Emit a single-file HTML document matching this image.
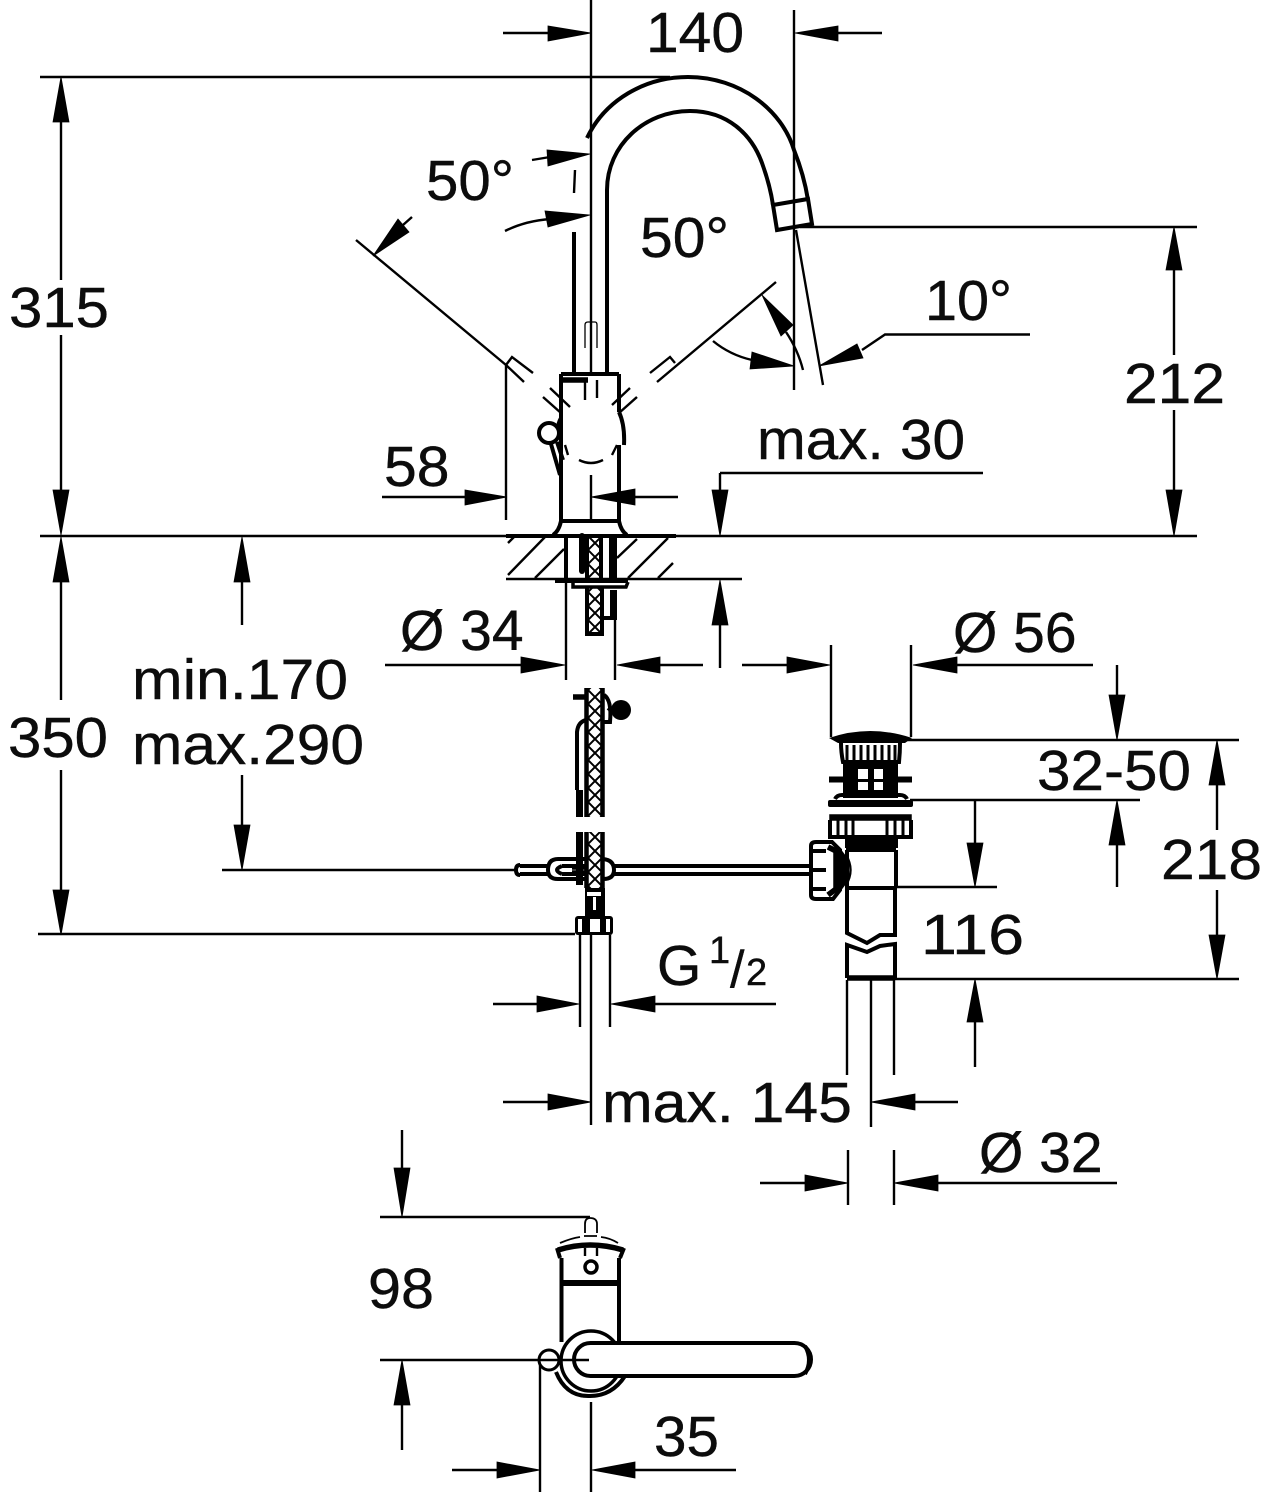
<!DOCTYPE html>
<html><head><meta charset="utf-8"><style>
html,body{margin:0;padding:0;background:#fff}
svg{display:block}
text{font-family:"Liberation Sans",sans-serif;font-size:57px;fill:#0c0c0c;stroke:#0c0c0c;stroke-width:.4}
.t{stroke:#000;stroke-width:2.4;fill:none}
.m{stroke:#000;stroke-width:4;fill:none}
.b{stroke:#000;stroke-width:5.5;fill:none}
.a{fill:#000;stroke:#000;stroke-width:.8}
</style></head><body>
<svg width="1268" height="1500" viewBox="0 0 1268 1500" xmlns="http://www.w3.org/2000/svg">
<defs><pattern id="x" width="14" height="14" patternUnits="userSpaceOnUse" x="588" y="536"><path d="M0 0L14 14M14 0L0 14" stroke="#000" stroke-width="2"/></pattern></defs>
<rect width="1268" height="1500" fill="#fff"/>

<!-- thin dimension lines -->
<path class="t" d="M40 77H670M591 0V375M794 10V390M503 33H550M838 33H882
M61 120V280M61 335V492M61 580V700M61 770V892M38 934H575
M40 536H1197M242 580V625M242 775V826M222 870H515
M800 227H1197M1174 270V355M1174 410V492M720 473H983M720 473V492M720 625V668M506 579H742
M382 497H465M506 365V520M635 497H678M591 475V521
M385 665H522M566 583V680M615 618V680M660 665H703M742 665H787M831 645V737M911 645V737M957 665H1093
M905 740H1239M910 800H1140M1117 665V696M1117 845V887M1217 785V830M1217 890V935M895 979H1239
M975 800V844M895 887H997M975 1022V1067
M580 935V1027M610 935V1027M591 935V1125M493 1004H538M655 1004H776
M503 1102H548M915 1102H958M871 980V1127M847 980V1075M894 980V1075M848 1150V1205M894 1150V1205
M760 1183H806M938 1183H1117
M402 1130V1170M380 1217H590M380 1360H545M402 1405V1450
M452 1470H498M540 1360V1492M591 1402V1492M635 1470H736"/>
<!-- arrowheads -->
<path class="a" d="M591 33L548 26V41Z M795 33L838 26V41Z
M61 77L53 122H69Z M61 535L53 490H69Z M61 537L53 582H69Z M61 935L53 890H69Z
M242 537L234 582H250Z M242 870L234 825H250Z
M1174 227L1166 270H1182Z M1174 536L1166 490H1182Z M720 536L712 490H728Z M720 580L712 625H728Z
M507 497L465 490V505Z M591 497L635 489V505Z
M565 665L521 657V673Z M617 665L660 657V673Z M830 665L787 657V673Z M913 665L957 657V673Z
M1117 740L1109 695H1125Z M1117 800L1109 845H1125Z M1217 740L1209 785H1225Z M1217 979L1209 935H1225Z
M975 887L967 843H983Z M975 979L967 1022H983Z
M579 1004L537 996V1012Z M611 1004L655 996V1012Z
M591 1102L548 1094V1110Z M871 1102L915 1094V1110Z
M848 1183L805 1175V1191Z M894 1183L938 1175V1191Z
M402 1217L394 1168H410Z M402 1360L394 1405H410Z
M540 1470L497 1462V1478Z M592 1470L635 1462V1478Z
M373 256L398 219L409 232Z M590 154L547 150L548 166Z M590 215L545 211L548 227Z
M762 295L793 325L781 336Z M794 366L752 352L750 369Z M819 366L857 344L863 358Z"/>
<!-- angle lines -->
<path class="t" d="M356 240L506 365L524 382M506 365L512 357L533 373M403 225L412 217
M532 160L550 157M505 231Q525 221 550 219M575 170L574 193
M776 282L657 382M650 373L670 357L675 363M786 332Q798 350 803 370M713 341Q730 355 752 360
M796 230L823 385M862 350L885 334.5H1030"/>
<!-- spout -->
<path class="m" d="M587 138C605 100 645 77 688 77C740 77 782 110 794 150Q804 175 808 200"/>
<path class="m" d="M607 373V190C607 145 645 111 690 111C728 111 752 135 762 163Q770 185 773 205"/>
<path class="m" d="M773 205L808 199L812 224L777 230Z"/>
<path class="m" d="M574 232V374"/>
<path d="M585 348V325Q585 322 588 322H595Q597 322 597 325V348M591 322V348" stroke="#000" stroke-width="1.3" fill="none"/>
<!-- body -->
<path class="m" d="M561 374H619M561 374V521M619 374V412M619 445V521M561 521H619"/>
<path class="b" d="M562 380H588"/>
<path class="m" d="M561 521Q559 531 553 535M619 521Q621 531 627 535M561 418Q557 425 558 433M619 412Q625 425 624 445"/>
<path class="t" d="M550 388L570 407M543 397L561 413M630 388L612 405M637 397L619 413M585 380V400M597 380V398M579 460Q591 466 603 460M565 445L568 455M617 445L612 455"/>
<circle cx="549" cy="433" r="10" fill="#fff" stroke="#000" stroke-width="4"/>
<path class="m" d="M551 444L560 475M557 442L563 460"/>
<!-- counter block -->
<path d="M506 536H676" stroke="#000" stroke-width="4"/>
<path class="t" d="M508 543L514 537M508 575L545 537M535 578L564 549M617 558L637 539M628 578L668 538M658 578L673 563"/>
<rect x="588" y="536" width="13" height="45" fill="url(#x)"/>
<path class="m" d="M566 536V582M587 536V580"/>
<path d="M601 536V580" stroke="#000" stroke-width="4"/>
<path d="M582 536V571" stroke="#000" stroke-width="6" stroke-linecap="round"/>
<path d="M613 536V580" stroke="#000" stroke-width="8"/>
<path d="M555 581H628" stroke="#000" stroke-width="4"/>
<path d="M573 583V587H626L628 582" stroke="#000" stroke-width="3.5" fill="none"/>
<rect x="588" y="588" width="14" height="46" fill="url(#x)"/>
<path class="m" d="M587 588V634H602V588"/>
<path d="M613.5 590V617" stroke="#000" stroke-width="7"/>
<path class="m" d="M604 618H617"/>
<!-- hose -->
<rect x="587" y="688" width="15" height="129" fill="url(#x)"/>
<rect x="587" y="832" width="15" height="56" fill="url(#x)"/>
<path d="M586.5 688V817M602.5 688V817M586.5 832V888M602.5 832V888" stroke="#000" stroke-width="4.5" fill="none"/>
<path class="b" d="M573 697H586"/>
<path class="m" d="M586 720Q578 722 577 732V790"/>
<path d="M579.5 790V817M579.5 832V885" stroke="#000" stroke-width="7" fill="none"/>
<path class="m" d="M604 695Q612 700 610 722H604"/>
<circle cx="621" cy="710" r="10" fill="#000"/>
<path class="m" d="M608 708L613 712"/>
<!-- rod -->
<path d="M520 866H548M520 874H548M613 866H812M613 874H812" stroke="#000" stroke-width="4" fill="none"/>
<path class="m" d="M516 870Q516 865 520 865M516 870Q516 875 520 875"/>
<path class="m" d="M586 859H558Q548 859 548 870Q548 879 558 879H586M562 866H586M562 874H586M562 866Q552 870 562 874M603 859Q614 860 614 870Q614 879 603 879"/>
<path class="b" d="M572 867H586M572 873H586"/>
<!-- fitting -->
<path d="M585 888H605V916H585Z" fill="#000"/>
<rect x="587" y="892" width="14" height="4" fill="#fff"/>
<rect x="593" y="897" width="3" height="13" fill="#fff"/>
<rect x="575" y="916" width="38" height="19" rx="3" fill="#000"/>
<rect x="578" y="919" width="4" height="13" fill="#fff"/>
<rect x="590" y="919" width="10" height="13" fill="#fff"/>
<rect x="606" y="919" width="4" height="13" fill="#fff"/>
<!-- knob -->
<path class="m" d="M816 842H832L840 850V890L833 899H816Q811 899 811 895V846Q811 842 816 842Z"/>
<path class="m" d="M811 851H826M811 870H826M811 889H826"/>
<path class="b" d="M828 847L836 851V889L828 895"/>
<path d="M840 848L846 856V884L840 892Z" fill="#000"/>
<path class="t" d="M846 855Q855 870 846 885"/>
<!-- drain -->
<path d="M829 738Q870 724 912 738L905 743H838Z" fill="#000"/>
<path class="m" d="M841 743Q841 752 843 762H899Q900 752 900 743"/>
<path stroke="#000" stroke-width="3" d="M847 745V760M854 745V760M861 745V760M868 745V760M875 745V760M882 745V760M889 745V760M895 745V760"/>
<rect x="843" y="760" width="55" height="38" fill="#000"/>
<rect x="829" y="776.500" width="83" height="6" fill="#000"/>
<rect x="858" y="769" width="10" height="10" fill="#fff"/>
<rect x="874" y="769" width="9" height="10" fill="#fff"/>
<rect x="858" y="782" width="10" height="8" fill="#fff"/>
<rect x="874" y="782" width="9" height="8" fill="#fff"/>
<path class="m" d="M835 799Q837 795 842 795H900Q905 795 907 799"/>
<rect x="828" y="800" width="85" height="7" rx="2" fill="#000"/>
<path d="M830 815H911V820H830Z" fill="#000" stroke="#000" stroke-width="1.5"/>
<path class="m" d="M830 820V837H911V820"/>
<path stroke="#000" stroke-width="3" d="M838 820V837M846 820V837M853 820V837M887 820V837M895 820V837M903 820V837"/>
<rect x="845" y="837" width="53" height="11" fill="#000"/>
<path class="m" d="M847 850V888M896 850V888M846 850H896M846 888H896"/>
<path class="m" d="M847 888V933L867 943L880 935H895V888"/>
<path class="m" d="M847 978V945L867 952L880 946L895 944V978"/>
<path class="b" d="M847 978H895"/>
<!-- bottom view -->
<path d="M585 1233V1224Q585 1218 590 1218Q597 1218 597 1224V1233" stroke="#000" stroke-width="1.8" fill="none"/>
<path d="M560 1243Q572 1238 580 1237M584 1236H597M601 1237Q610 1238 618 1243" stroke="#000" stroke-width="1.8" fill="none"/>
<path class="b" d="M558 1250Q590 1240 623 1250"/>
<path class="m" d="M557 1248L560 1258M624 1248L620 1258M561.500 1258V1342M619 1258V1342"/>
<path d="M561 1283H619" stroke="#000" stroke-width="6"/>
<path class="t" d="M585 1248V1256M597 1248V1256"/>
<circle cx="591" cy="1267" r="6" fill="#fff" stroke="#000" stroke-width="3.5"/>
<circle cx="591" cy="1361" r="30" fill="#fff" stroke="#000" stroke-width="3.5"/>
<path class="m" d="M556 1372Q566 1397 590 1396Q612 1396 625 1376"/>
<circle cx="549" cy="1360" r="10" fill="#fff" stroke="#000" stroke-width="3"/>
<rect x="574" y="1343" width="237" height="33" rx="16.500" fill="#fff" stroke="#000" stroke-width="4"/>
<path class="t" d="M540 1360H589"/>
<path class="m" d="M805 1346Q813 1360 805 1374"/>

<!-- labels -->
<text x="646" y="52" textLength="98" lengthAdjust="spacingAndGlyphs">140</text>
<text x="9" y="327" textLength="100" lengthAdjust="spacingAndGlyphs">315</text>
<text x="426" y="200" textLength="88" lengthAdjust="spacingAndGlyphs">50°</text>
<text x="640" y="257" textLength="89" lengthAdjust="spacingAndGlyphs">50°</text>
<text x="925" y="320" textLength="87" lengthAdjust="spacingAndGlyphs">10°</text>
<text x="384" y="486" textLength="65.500" lengthAdjust="spacingAndGlyphs">58</text>
<text x="757" y="459" textLength="208" lengthAdjust="spacingAndGlyphs">max. 30</text>
<text x="1124" y="403" textLength="101" lengthAdjust="spacingAndGlyphs">212</text>
<text x="400" y="650">Ø 34</text>
<text x="953" y="652">Ø 56</text>
<text x="132" y="699" textLength="216" lengthAdjust="spacingAndGlyphs">min.170</text>
<text x="132" y="764" textLength="232" lengthAdjust="spacingAndGlyphs">max.290</text>
<text x="8" y="757" textLength="100" lengthAdjust="spacingAndGlyphs">350</text>
<text x="1037" y="790" textLength="154" lengthAdjust="spacingAndGlyphs">32-50</text>
<text x="1161" y="879" textLength="101" lengthAdjust="spacingAndGlyphs">218</text>
<text x="921" y="954" textLength="103" lengthAdjust="spacingAndGlyphs">116</text>
<text x="657" y="985">G</text>
<text x="709" y="963" style="font-size:38px">1</text>
<text x="730" y="987" style="font-size:52px">/</text>
<text x="746" y="985" style="font-size:38px">2</text>
<text x="602" y="1122" textLength="250" lengthAdjust="spacingAndGlyphs">max. 145</text>
<text x="979" y="1172">Ø 32</text>
<text x="368" y="1308" textLength="66" lengthAdjust="spacingAndGlyphs">98</text>
<text x="654" y="1456" textLength="65" lengthAdjust="spacingAndGlyphs">35</text>
</svg>
</body></html>
